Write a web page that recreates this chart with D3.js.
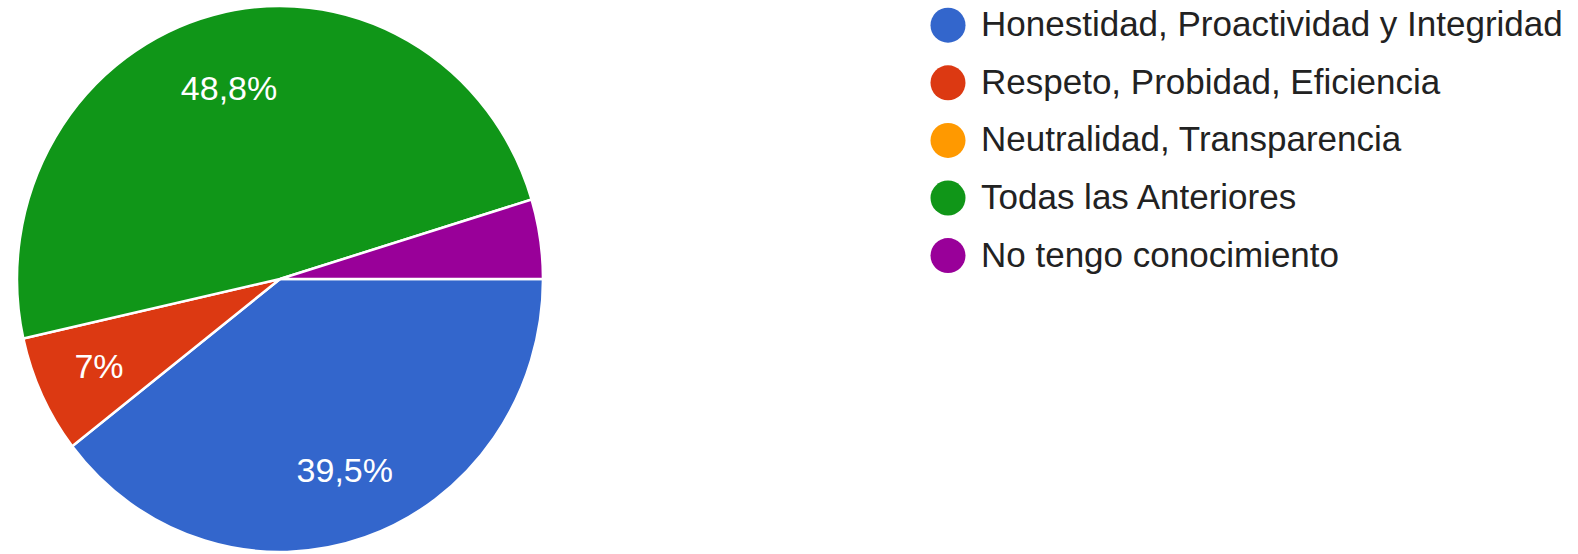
<!DOCTYPE html>
<html>
<head>
<meta charset="utf-8">
<script src="https://cdn.jsdelivr.net/npm/d3@7"></script>
<style>
  html, body { margin: 0; padding: 0; background: #fff; }
  svg { display: block; font-family: "Liberation Sans", Arial, sans-serif; }
</style>
</head>
<body>
<svg width="1578" height="554"></svg>
<script>
const categories = [
  "Honestidad, Proactividad y Integridad",
  "Respeto, Probidad, Eficiencia",
  "Neutralidad, Transparencia",
  "Todas las Anteriores",
  "No tengo conocimiento"
];
const values = [39.5, 7, 0, 48.8, 4.7];
const colors = ["#3366cc", "#dc3912", "#ff9900", "#109618", "#990099"];

const svg = d3.select("svg");

const cx = 280;
const cy = 279;
const r = 263;
const sy = 1.038; // la imagen viene algo estirada en vertical

const color = d3.scaleOrdinal().domain(categories).range(colors);

const pie = d3
  .pie()
  .sort(null)
  .value((d) => d.value)
  .startAngle(Math.PI / 2)
  .endAngle(Math.PI / 2 + 2 * Math.PI);

const data = categories.map((c, i) => ({ name: c, value: values[i] }));
const arcs = pie(data);

const arc = d3.arc().innerRadius(0).outerRadius(r);
const labelArc = d3.arc().innerRadius(200).outerRadius(200);

const g = svg
  .append("g")
  .attr("transform", "translate(" + cx + "," + cy + ") scale(1," + sy + ")");

g.selectAll("path")
  .data(arcs.filter((d) => d.value > 0))
  .enter()
  .append("path")
  .attr("d", arc)
  .attr("fill", (d) => color(d.data.name))
  .attr("stroke", "#fff")
  .attr("stroke-width", 2.5)
  .attr("vector-effect", "non-scaling-stroke");

// etiquetas de porcentaje (solo las porciones grandes)
const fmt = (v) => String(v).replace(".", ",") + "%";
svg
  .selectAll("text.pct")
  .data(arcs.filter((d) => d.value >= 5))
  .enter()
  .append("text")
  .attr("class", "pct")
  .attr("x", (d) => cx + labelArc.centroid(d)[0])
  .attr("y", (d) => cy + 2 + labelArc.centroid(d)[1])
  .attr("dy", "0.36em")
  .attr("text-anchor", "middle")
  .attr("fill", "#fff")
  .attr("font-size", 34)
  .text((d) => fmt(d.data.value));

// leyenda
const legend = svg
  .selectAll("g.legend")
  .data(categories)
  .enter()
  .append("g")
  .attr("class", "legend")
  .attr("transform", (d, i) => "translate(948," + (25.2 + i * 57.6) + ")");

legend
  .append("circle")
  .attr("r", 17.5)
  .attr("fill", (d) => color(d));

legend
  .append("text")
  .attr("x", 33)
  .attr("y", 11)
  .attr("fill", "#222")
  .attr("font-size", 35)
  .text((d) => d);
</script>
</body>
</html>
